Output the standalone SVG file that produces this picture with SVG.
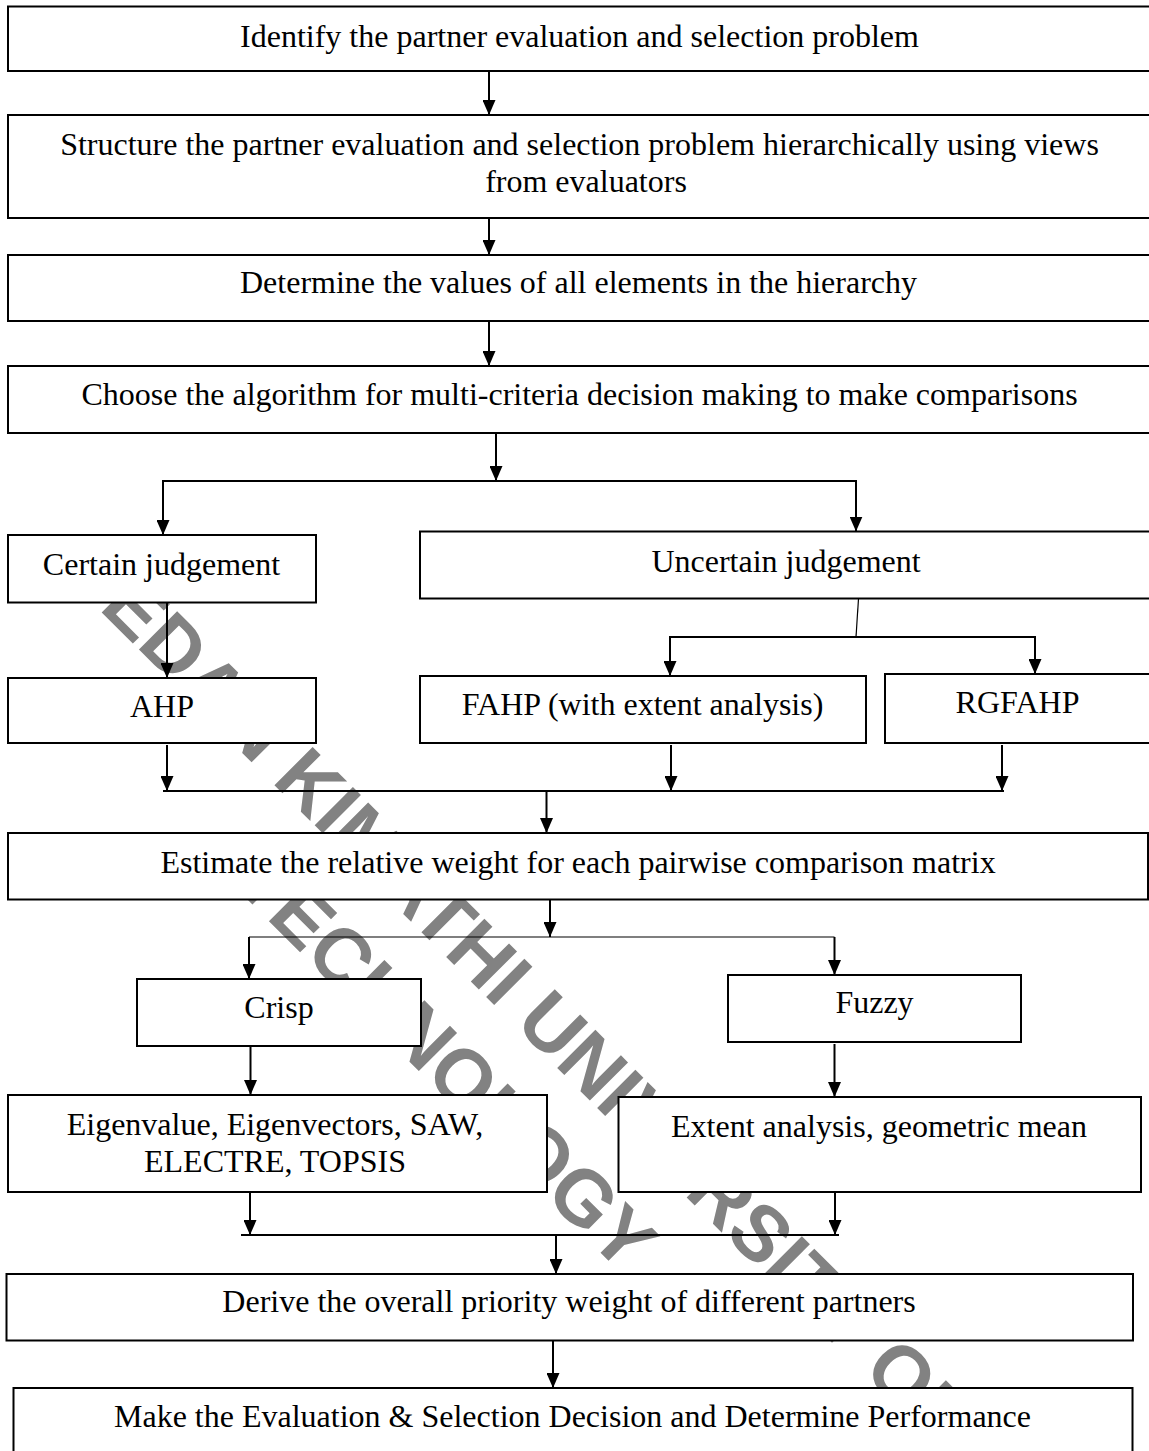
<svg xmlns="http://www.w3.org/2000/svg" width="1149" height="1451" viewBox="0 0 1149 1451">
  <style>
    .box { fill: #ffffff; stroke: #000000; stroke-width: 2; }
    .lbl { font-family: "Liberation Serif", "Times New Roman", serif; font-size: 32px; fill: #000000; text-anchor: middle; }
    .wire { fill: none; stroke: #000000; stroke-width: 2; }
    .thin { fill: none; stroke: #000000; stroke-width: 1.2; }
    .wm { font-family: "Liberation Sans", Arial, sans-serif; font-weight: bold; font-size: 78.5px; fill: #828282; text-anchor: middle; }
  </style>
  <defs>
    <marker id="head" viewBox="0 0 15 13" markerUnits="userSpaceOnUse" markerWidth="15" markerHeight="13" refX="15" refY="6.5" orient="auto">
      <path d="M0,0 L15,6.5 L0,13 Z" fill="#000000"/>
    </marker>
  </defs>

  <rect width="1149" height="1451" fill="#ffffff"/>

  <!-- repository watermark, lying under the flowchart -->
  <g id="watermark" transform="translate(498,1008.7) rotate(45)">
    <text class="wm" x="0" y="0">DEDAN KIMATHI UNIVERSITY OF</text>
    <text class="wm" x="0" y="100">TECHNOLOGY</text>
  </g>

  <g id="n-identify">
    <rect class="box" x="8" y="6.5" width="1160" height="64.5"/>
    <text class="lbl" x="579.5" y="47">Identify the partner evaluation and selection problem</text>
  </g>
  <g id="n-structure">
    <rect class="box" x="8" y="115" width="1160" height="103"/>
    <text class="lbl" x="579.5" y="155">Structure the partner evaluation and selection problem hierarchically using views</text>
    <text class="lbl" x="586" y="192">from evaluators</text>
  </g>
  <g id="n-determine">
    <rect class="box" x="8" y="255" width="1160" height="66"/>
    <text class="lbl" x="578.5" y="293">Determine the values of all elements in the hierarchy</text>
  </g>
  <g id="n-choose">
    <rect class="box" x="8" y="366" width="1160" height="67"/>
    <text class="lbl" x="579.5" y="405">Choose the algorithm for multi-criteria decision making to make comparisons</text>
  </g>
  <g id="n-certain">
    <rect class="box" x="8" y="535" width="308" height="67.5"/>
    <text class="lbl" x="161.5" y="575">Certain judgement</text>
  </g>
  <g id="n-uncertain">
    <rect class="box" x="420" y="531.5" width="750" height="67"/>
    <text class="lbl" x="786" y="572">Uncertain judgement</text>
  </g>
  <g id="n-ahp">
    <rect class="box" x="8" y="678" width="308" height="65"/>
    <text class="lbl" x="162" y="716.5">AHP</text>
  </g>
  <g id="n-fahp">
    <rect class="box" x="420" y="676" width="446" height="67"/>
    <text class="lbl" x="642.5" y="715">FAHP (with extent analysis)</text>
  </g>
  <g id="n-rgfahp">
    <rect class="box" x="885" y="674" width="290" height="69"/>
    <text class="lbl" x="1017.5" y="713">RGFAHP</text>
  </g>
  <g id="n-estimate">
    <rect class="box" x="8" y="833" width="1140" height="66.5"/>
    <text class="lbl" x="578" y="873">Estimate the relative weight for each pairwise comparison matrix</text>
  </g>
  <g id="n-crisp">
    <rect class="box" x="137" y="979" width="284" height="67"/>
    <text class="lbl" x="279" y="1018">Crisp</text>
  </g>
  <g id="n-fuzzy">
    <rect class="box" x="728" y="975" width="293" height="67"/>
    <text class="lbl" x="874.5" y="1013">Fuzzy</text>
  </g>
  <g id="n-crisp-methods">
    <rect class="box" x="8" y="1095" width="539" height="97"/>
    <text class="lbl" x="275" y="1135">Eigenvalue, Eigenvectors, SAW,</text>
    <text class="lbl" x="275" y="1172">ELECTRE, TOPSIS</text>
  </g>
  <g id="n-fuzzy-methods">
    <rect class="box" x="618.5" y="1097" width="522.5" height="95"/>
    <text class="lbl" x="879" y="1137">Extent analysis, geometric mean</text>
  </g>
  <g id="n-derive">
    <rect class="box" x="6.5" y="1274" width="1126.5" height="66.5"/>
    <text class="lbl" x="569" y="1312">Derive the overall priority weight of different partners</text>
  </g>
  <g id="n-decide">
    <rect class="box" x="13.5" y="1388" width="1119" height="90"/>
    <text class="lbl" x="572.5" y="1427">Make the Evaluation &amp; Selection Decision and Determine Performance</text>
  </g>

  <g id="connectors">
    <!-- main spine -->
    <line class="wire" x1="489" y1="71" x2="489" y2="115" marker-end="url(#head)"/>
    <line class="wire" x1="489" y1="218" x2="489" y2="255" marker-end="url(#head)"/>
    <line class="wire" x1="489" y1="321" x2="489" y2="366" marker-end="url(#head)"/>
    <line class="wire" x1="496" y1="433" x2="496" y2="481" marker-end="url(#head)"/>
    <!-- split into certain / uncertain -->
    <polyline class="wire" points="163,481 856,481 856,531.5" marker-end="url(#head)"/>
    <line class="wire" x1="163" y1="480" x2="163" y2="535" marker-end="url(#head)"/>
    <line class="wire" x1="167" y1="602.5" x2="167" y2="678" marker-end="url(#head)"/>
    <!-- uncertain branches -->
    <line class="thin" x1="858.5" y1="598.5" x2="856" y2="637"/>
    <line class="wire" x1="669" y1="637" x2="1036" y2="637"/>
    <line class="wire" x1="670" y1="637" x2="670" y2="676" marker-end="url(#head)"/>
    <line class="wire" x1="1035" y1="637" x2="1035" y2="674" marker-end="url(#head)"/>
    <!-- merge of the three methods -->
    <line class="wire" x1="167" y1="745" x2="167" y2="791" marker-end="url(#head)"/>
    <line class="wire" x1="671" y1="745" x2="671" y2="791" marker-end="url(#head)"/>
    <line class="wire" x1="1002" y1="745" x2="1002" y2="791" marker-end="url(#head)"/>
    <line class="wire" x1="163" y1="791" x2="1004" y2="791"/>
    <line class="wire" x1="546.5" y1="791" x2="546.5" y2="833" marker-end="url(#head)"/>
    <!-- split into crisp / fuzzy -->
    <line class="wire" x1="550" y1="899.5" x2="550" y2="937" marker-end="url(#head)"/>
    <line class="thin" x1="249" y1="937" x2="834.5" y2="937"/>
    <line class="wire" x1="249" y1="937" x2="249" y2="979" marker-end="url(#head)"/>
    <line class="wire" x1="834.5" y1="937" x2="834.5" y2="975" marker-end="url(#head)"/>
    <line class="wire" x1="250.5" y1="1046" x2="250.5" y2="1095" marker-end="url(#head)"/>
    <line class="wire" x1="834.5" y1="1044" x2="834.5" y2="1097" marker-end="url(#head)"/>
    <!-- merge to overall weight -->
    <line class="wire" x1="250" y1="1192" x2="250" y2="1235" marker-end="url(#head)"/>
    <line class="wire" x1="835" y1="1192" x2="835" y2="1235" marker-end="url(#head)"/>
    <line class="wire" x1="241" y1="1235" x2="839" y2="1235"/>
    <line class="wire" x1="556" y1="1236" x2="556" y2="1274" marker-end="url(#head)"/>
    <line class="wire" x1="553" y1="1341" x2="553" y2="1388" marker-end="url(#head)"/>
  </g>
</svg>
